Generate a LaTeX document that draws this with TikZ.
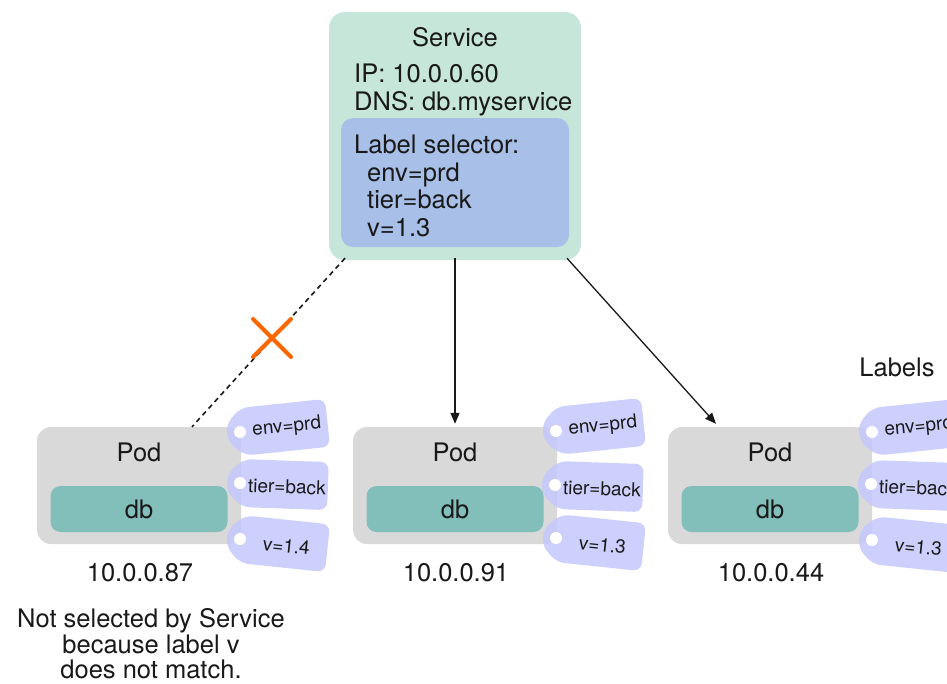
\documentclass[tikz,border=0pt]{standalone}
\usepackage{fontspec}
\setmainfont{TeX Gyre Heros}
\usetikzlibrary{arrows.meta,calc}
\definecolor{svcfill}{RGB}{198,230,218}
\definecolor{selfill}{RGB}{168,191,232}
\definecolor{podfill}{RGB}{217,217,217}
\definecolor{dbfill}{RGB}{130,191,187}
\definecolor{tagfill}{RGB}{196,200,252}
\definecolor{xorange}{RGB}{255,102,0}
\definecolor{ink}{RGB}{25,25,25}
\tikzset{
  svcbox/.style={fill=svcfill, rounded corners=16pt, inner sep=0pt, minimum width=252pt, minimum height=248pt},
  selbox/.style={fill=selfill, rounded corners=12pt, inner sep=0pt, minimum width=228pt, minimum height=129pt},
  podbox/.style={fill=podfill, rounded corners=14pt, inner sep=0pt, minimum width=204pt, minimum height=117pt},
  dbbox/.style={fill=dbfill, rounded corners=10pt, inner sep=0pt, minimum width=177pt, minimum height=46pt},
  txt/.style={inner sep=0pt, text=ink},
  tagtext/.style={inner sep=0pt, text=ink, font=\fontsize{19}{20}\selectfont},
  conn/.style={draw=ink, line width=1.3pt},
  arr/.style={conn, -{Triangle[length=11pt,width=9pt]}},
}
\newcommand\labeltag[6]{%
  \begin{scope}[shift={(#2,#3)}, rotate=#4]
    \fill[tagfill, fill opacity=0.85, rounded corners=8pt] (-13,-9) -- (3,-24) -- (88,-24) -- (88,24) -- (3,24) -- (-13,9) -- cycle;
    \fill[white] (0,0) circle (6pt);
    \node[tagtext, transform shape] (#1) at (47,#6) {#5};
  \end{scope}}
\begin{document}
\begin{tikzpicture}[x=1pt, y=-1pt, font=\fontsize{25.5}{28}\selectfont]
\useasboundingbox (0,0) rectangle (947,683);

% Service
\node[svcbox] (svc) at (455,136) {};
\node[selbox] (sel) at (455,182.5) {};
\node[txt, anchor=base] (svct) at (455,46) {Service};
\node[txt, anchor=base west] (ip) at (354,82) {IP: 10.0.0.60};
\node[txt, anchor=base west] (dns) at (354,110) {DNS: db.myservice};
\node[txt, anchor=base west] (ls) at (354,153) {Label selector:};
\node[txt, anchor=base west] (ls1) at (367,181) {env=prd};
\node[txt, anchor=base west] (ls2) at (367,208) {tier=back};
\node[txt, anchor=base west] (ls3) at (367,236) {v=1.3};

% Pods
\foreach \n/\px/\ip in {1/139/10.0.0.87, 2/455/10.0.0.91, 3/770/10.0.0.44}{
  \node[podbox] (pod\n) at (\px,485.5) {};
  \node[dbbox] (db\n) at (\px,509) {};
  \node[txt, anchor=base] (podt\n) at (\px,461) {Pod};
  \node[txt, anchor=base] (dbt\n) at (\px,518) {db};
  \node[txt, anchor=base] (ipt\n) at ($(\px,581)+(1,0)$) {\ip};
}

% Tags
\labeltag{t1a}{240}{432}{6}{env=prd}{0}
\labeltag{t1b}{240}{483}{-2}{tier=back}{2}
\labeltag{t1c}{240}{539}{-6}{v=1.4}{2}
\labeltag{t2a}{556}{431}{6}{env=prd}{0}
\labeltag{t2b}{555}{485}{-2}{tier=back}{2}
\labeltag{t2c}{556}{538}{-6}{v=1.3}{2}
\labeltag{t3a}{872}{432}{6}{env=prd}{0}
\labeltag{t3b}{871}{484}{-2}{tier=back}{2}
\labeltag{t3c}{872}{540}{-6}{v=1.3}{2}

\node[txt, anchor=base] (lbl) at (897,376) {Labels};

% Connectors
\draw[conn, dash pattern=on 5pt off 4pt, line width=1.6pt] ($(svc.south)+(-110,-2)$) -- ($(pod1.north)+(53,0)$);
\draw[arr] ($(svc.south)+(0,-2)$) -- ($(pod2.north)+(0,-3)$);
\draw[arr] ($(svc.south)+(112,-2)$) -- ($(pod3.north)+(-54,-3)$);

% X mark
\coordinate (xm) at (272,338);
\draw[xorange, line width=4pt, line cap=round] ($(xm)+(-19,-19)$) -- ($(xm)+(19,19)$) ($(xm)+(-19,19)$) -- ($(xm)+(19,-19)$);

% Note
\node[txt, anchor=base] (n1) at (151,627) {Not selected by Service};
\node[txt, anchor=base] (n2) at (151,653) {because label v};
\node[txt, anchor=base] (n3) at (151,678) {does not match.};
\end{tikzpicture}
\end{document}
